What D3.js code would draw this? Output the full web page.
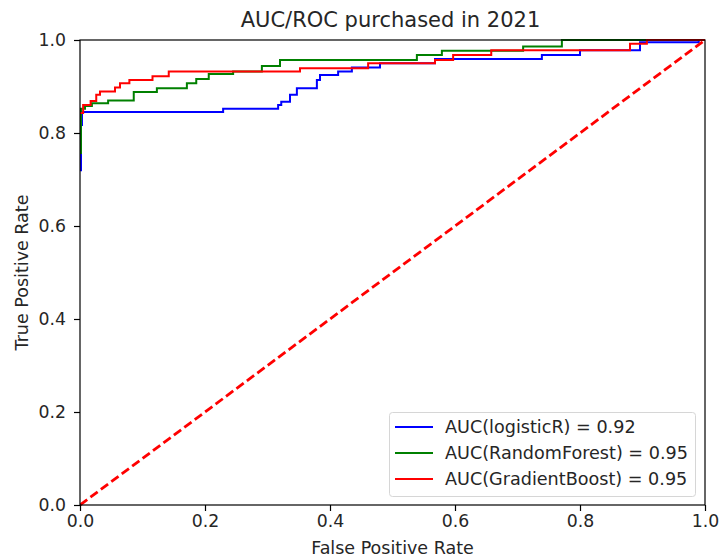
<!DOCTYPE html>
<html><head><meta charset="utf-8">
<script src="https://cdn.jsdelivr.net/npm/d3@7"></script>
<style>body{margin:0;background:#fff}svg{font-family:"DejaVu Sans",sans-serif}</style>
</head><body>
<svg id="c" width="719" height="560"></svg>
<script>
const title = "AUC/ROC purchased in 2021";
const xLabel = "False Positive Rate";
const yLabel = "True Positive Rate";
const ticks = [0.0, 0.2, 0.4, 0.6, 0.8, 1.0];
const seriesNames = ["AUC(logisticR) = 0.92", "AUC(RandomForest) = 0.95", "AUC(GradientBoost) = 0.95"];
const seriesColors = ["#0000ff", "#008000", "#ff0000"];
// [fpr, tpr]: at fpr the tpr jumps to the given value
const logisticR = [[0,0.72],[0.0016,0.817],[0.0032,0.845],[0.229,0.852],[0.317,0.86],[0.322,0.867],
  [0.336,0.882],[0.347,0.896],[0.379,0.914],[0.384,0.925],[0.413,0.932],[0.435,0.941],[0.48,0.95],
  [0.568,0.959],[0.739,0.968],[0.8,0.978],[0.896,0.995],[0.99,1.0],[1,1]];
const randomForest = [[0,0.757],[0.0016,0.852],[0.008,0.858],[0.019,0.864],[0.045,0.870],[0.086,0.888],
  [0.123,0.896],[0.171,0.907],[0.186,0.916],[0.206,0.927],[0.245,0.932],[0.291,0.944],[0.32,0.957],
  [0.539,0.968],[0.579,0.977],[0.709,0.986],[0.771,1.0],[1,1]];
const gradientBoost = [[0,0.843],[0.005,0.86],[0.017,0.869],[0.026,0.882],[0.032,0.889],[0.056,0.898],
  [0.064,0.907],[0.079,0.914],[0.116,0.922],[0.142,0.932],[0.352,0.939],[0.461,0.95],[0.568,0.957],
  [0.597,0.968],[0.658,0.978],[0.88,0.992],[0.907,1.0],[1,1]];
const diagonal = [[0,0],[1,1]];

const svg = d3.select("#c");
const L = 80, R = 705, T = 40, B = 505;
const x = d3.scaleLinear().domain([0,1]).range([L,R]);
const y = d3.scaleLinear().domain([0,1]).range([B,T]);

svg.append("defs").append("clipPath").attr("id","clip").append("rect")
  .attr("x",L).attr("y",T-1).attr("width",R-L).attr("height",B-T+2);
const g = svg.append("g").attr("clip-path","url(#clip)");
const step = d3.line().x(d=>x(d[0])).y(d=>y(d[1])).curve(d3.curveStepAfter);
[logisticR, randomForest, gradientBoost].forEach((s,i)=>{
  g.append("path").attr("d",step(s)).attr("fill","none").attr("stroke",seriesColors[i]).attr("stroke-width",2);
});
g.append("path").attr("d",d3.line().x(d=>x(d[0])).y(d=>y(d[1]))(diagonal))
  .attr("fill","none").attr("stroke","#ff0000").attr("stroke-width",2.8).attr("stroke-dasharray","9,4");

// frame
svg.append("rect").attr("x",L).attr("y",T).attr("width",R-L).attr("height",B-T)
  .attr("fill","none").attr("stroke","#000").attr("stroke-width",1.2);

const fmt = d3.format(".1f");
const xa = svg.append("g").attr("transform",`translate(0,${B})`)
  .call(d3.axisBottom(x).tickValues(ticks).tickFormat(fmt).tickSize(6).tickPadding(4));
const ya = svg.append("g").attr("transform",`translate(${L},0)`)
  .call(d3.axisLeft(y).tickValues(ticks).tickFormat(fmt).tickSize(6).tickPadding(8));
[xa,ya].forEach(a=>{
  a.select(".domain").remove();
  a.selectAll("line").attr("stroke","#000").attr("stroke-width",1.2);
  a.selectAll("text").attr("font-size",17.3).attr("fill","#262626").attr("font-family","DejaVu Sans");
});

svg.append("text").attr("x",(L+R)/2-2).attr("y",27).attr("text-anchor","middle")
  .attr("font-size",21).attr("fill","#262626").text(title);
svg.append("text").attr("x",(L+R)/2).attr("y",554).attr("text-anchor","middle")
  .attr("font-size",17.5).attr("fill","#262626").text(xLabel);
svg.append("text").attr("transform",`translate(28,${(T+B)/2}) rotate(-90)`).attr("text-anchor","middle")
  .attr("font-size",17.5).attr("fill","#262626").text(yLabel);

// legend
const lg = svg.append("g");
lg.append("rect").attr("x",389.5).attr("y",412.5).attr("width",306).attr("height",84).attr("rx",3)
  .attr("fill","#fff").attr("fill-opacity",0.8).attr("stroke","#d6d6d6");
seriesNames.forEach((n,i)=>{
  const yy = 427 + i*26;
  lg.append("line").attr("x1",395).attr("x2",433).attr("y1",yy).attr("y2",yy)
    .attr("stroke",seriesColors[i]).attr("stroke-width",2);
  lg.append("text").attr("x",445).attr("y",yy+6).attr("font-size",17.6).attr("fill","#262626").text(n);
});
</script>
</body></html>
